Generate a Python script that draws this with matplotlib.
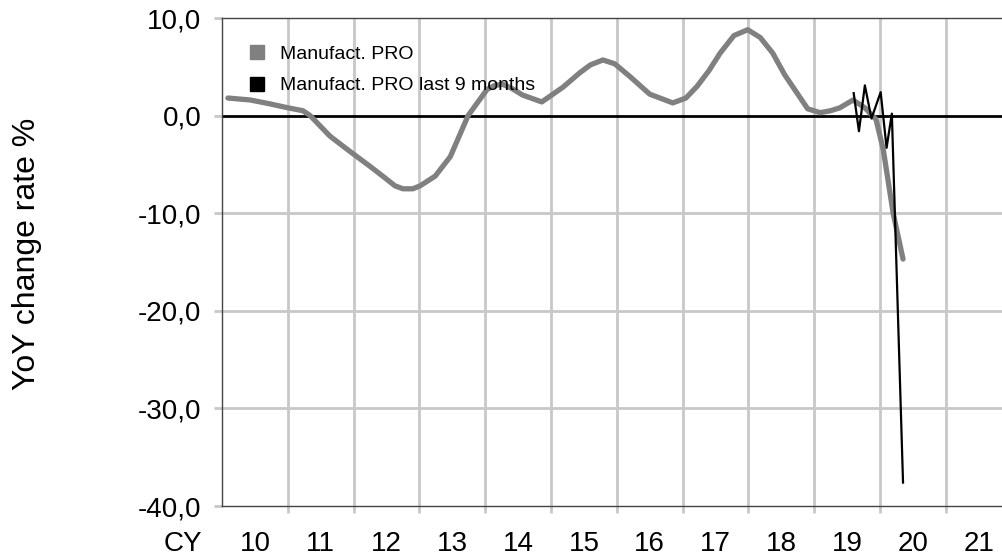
import numpy as np
import matplotlib
matplotlib.use("Agg")
import matplotlib.pyplot as plt
from matplotlib.lines import Line2D
from matplotlib.ticker import FixedLocator, NullFormatter, FuncFormatter

plt.rcParams['font.family'] = ['Liberation Sans', 'DejaVu Sans']

# values (fractional calendar year, YoY %)
pro_t = [2010.09, 2010.43, 2010.73, 2011.00, 2011.23, 2011.34, 2011.64, 2011.95,
         2012.25, 2012.48, 2012.63, 2012.75, 2012.90, 2013.01, 2013.24, 2013.47,
         2013.74, 2014.03, 2014.15, 2014.27, 2014.40, 2014.57, 2014.86, 2015.18,
         2015.44, 2015.60, 2015.79, 2015.97, 2016.20, 2016.50, 2016.85, 2017.05,
         2017.22, 2017.40, 2017.57, 2017.78, 2017.99, 2018.18, 2018.37, 2018.55,
         2018.74, 2018.90, 2019.09, 2019.25, 2019.39, 2019.59, 2019.77, 2019.94,
         2020.05, 2020.20, 2020.35]
pro_v = [1.8, 1.6, 1.2, 0.8, 0.5, 0.0, -2.1, -3.7,
         -5.2, -6.4, -7.2, -7.5, -7.5, -7.2, -6.2, -4.2,
         0.0, 2.7, 3.1, 3.2, 2.8, 2.1, 1.4, 2.9,
         4.4, 5.2, 5.7, 5.3, 4.0, 2.2, 1.3, 1.8,
         3.0, 4.6, 6.4, 8.2, 8.8, 8.0, 6.4, 4.2,
         2.3, 0.7, 0.3, 0.5, 0.8, 1.6, 0.8, -0.4,
         -3.5, -10.0, -14.7]

last9_t = [2019.60, 2019.68, 2019.77, 2019.87, 2020.01, 2020.10, 2020.18, 2020.35]
last9_v = [2.3, -1.6, 3.1, -0.3, 2.4, -3.3, 0.2, -37.6]

years = list(range(2010, 2022))
year_labels = ["10", "11", "12", "13", "14", "15", "16", "17", "18", "19", "20", "21"]

fig = plt.figure(figsize=(10.02, 5.56), dpi=100)
ax = fig.add_axes([222/1002, 1-506/556, 1-222/1002, (506-18)/556])

grid_c = '#c8c8c8'
ax.set_xlim(2010, 2010 + 780/65.8)
ax.set_ylim(-40, 10)

ax.xaxis.set_major_locator(FixedLocator(years[1:]))
ax.xaxis.set_major_formatter(NullFormatter())
ax.xaxis.set_minor_locator(FixedLocator([y + 0.5 for y in years]))
ax.set_xticklabels(year_labels, minor=True)
ax.tick_params(axis='x', which='major', length=5, width=2, color=grid_c)
ax.tick_params(axis='x', which='minor', length=0, pad=18, labelsize=20)

ax.set_yticks([-40, -30, -20, -10, 0, 10])
ax.yaxis.set_major_formatter(FuncFormatter(lambda v, p: ("%.1f" % v).replace('.', ',')))
ax.tick_params(axis='y', length=6, width=2, color=grid_c, pad=9, labelsize=20)

ax.grid(axis='x', which='major', color=grid_c, lw=2)
for v in [-30, -20, -10]:
    ax.axhline(v, color=grid_c, lw=2, zorder=1)
ax.axhline(0, color='black', lw=2, zorder=2)

for s in ['top', 'bottom', 'left']:
    ax.spines[s].set_color('#444444')
    ax.spines[s].set_linewidth(1)
ax.spines['right'].set_visible(False)

ax.plot(pro_t, pro_v, color='#808080', lw=3.8, solid_joinstyle='round',
        solid_capstyle='round', zorder=3)
ax.plot(last9_t, last9_v, color='black', lw=1.6, zorder=4)

ax.set_ylabel("YoY change rate %", fontsize=23)
ax.yaxis.set_label_coords(-0.231, 0.516)
ax.text(-0.026, -0.077, "CY", transform=ax.transAxes, ha='right', va='center', fontsize=20)

handles = [Line2D([], [], ls='none', marker='s', ms=9.5, color='#808080'),
           Line2D([], [], ls='none', marker='s', ms=9.5, color='black')]
ax.legend(handles, ["Manufact. PRO", "Manufact. PRO last 9 months"], loc='upper left',
          bbox_to_anchor=(0.007, 0.98), frameon=False, fontsize=14, handletextpad=0.6,
          labelspacing=0.72, handlelength=1.2)

fig.savefig("out.png", dpi=100)
